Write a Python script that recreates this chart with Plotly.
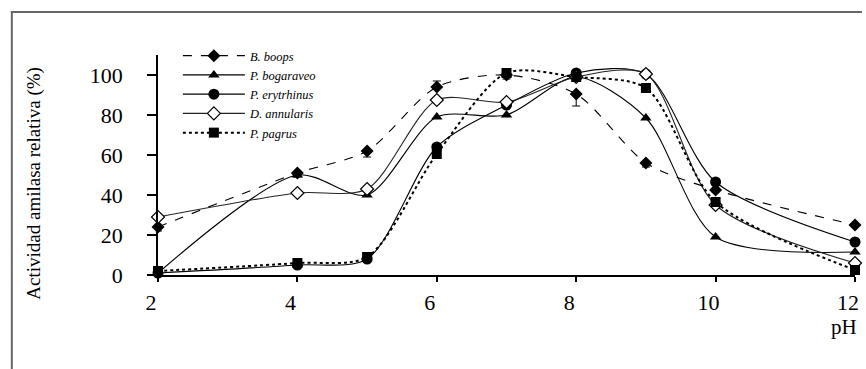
import plotly.graph_objects as go

ph = [2, 4, 5, 6, 7, 8, 9, 10, 12]

b_boops = [24, 51, 62, 94, 100, 90.5, 56, 42.5, 25]
b_boops_err_minus = [2, 2, 3, 0, 2, 6, 2, 1, 1]
b_boops_err_plus = [0, 0, 0, 3, 0, 0, 0, 0, 0]
p_bogaraveo = [1, 50, 40, 79, 80, 99, 78.5, 19, 11.5]
p_erytrhinus = [1, 5, 8, 64, 85, 101, 100.5, 46.5, 16.5]
d_annularis = [29, 41, 43, 87.5, 86.5, 99, 100.5, 35, 6]
p_pagrus = [2, 6, 9, 60.5, 101, 99, 93.5, 36.5, 2.5]

x_ticks = [2, 4, 6, 8, 10, 12]
y_ticks = [0, 20, 40, 60, 80, 100]

FONT = "Liberation Serif"

fig = go.Figure()

fig.add_trace(go.Scatter(
    x=ph, y=b_boops, name="B. boops", mode="lines+markers",
    line=dict(color="black", width=1.1, dash="dash", shape="spline", smoothing=0.8),
    marker=dict(symbol="diamond", size=10, color="black"),
    error_y=dict(type="data", symmetric=False, array=b_boops_err_plus,
                 arrayminus=b_boops_err_minus, color="black", thickness=1, width=4),
    cliponaxis=False,
))
fig.add_trace(go.Scatter(
    x=ph, y=p_bogaraveo, name="P. bogaraveo", mode="lines+markers",
    line=dict(color="black", width=1.1, shape="spline", smoothing=0.8),
    marker=dict(symbol="triangle-up", size=10, color="black"),
    cliponaxis=False,
))
fig.add_trace(go.Scatter(
    x=ph, y=p_erytrhinus, name="P. erytrhinus", mode="lines+markers",
    line=dict(color="black", width=1.1, shape="spline", smoothing=0.8),
    marker=dict(symbol="circle", size=11, color="black"),
    cliponaxis=False,
))
fig.add_trace(go.Scatter(
    x=ph, y=d_annularis, name="D. annularis", mode="lines+markers",
    line=dict(color="#222222", width=1.1, shape="spline", smoothing=0.8),
    marker=dict(symbol="diamond", size=10, color="white", line=dict(color="black", width=1.2)),
    cliponaxis=False,
))
fig.add_trace(go.Scatter(
    x=ph, y=p_pagrus, name="P. pagrus", mode="lines+markers",
    line=dict(color="black", width=2, dash="dot", shape="spline", smoothing=0.8),
    marker=dict(symbol="square", size=10, color="black"),
    cliponaxis=False,
))

# frame lines (top and left) drawn in paper coordinates
L, R, T, B = 158, 7, 55, 94
W, H = 866 - L - R, 369 - T - B
def px_x(p):
    return (p - L) / W
def px_y(p):
    return (369 - B - p) / H

fig.add_shape(type="line", xref="paper", yref="paper",
              x0=px_x(10), x1=px_x(866), y0=px_y(12), y1=px_y(12),
              line=dict(color="#666666", width=2))
fig.add_shape(type="line", xref="paper", yref="paper",
              x0=px_x(11), x1=px_x(11), y0=px_y(12), y1=px_y(369),
              line=dict(color="#666666", width=2))

fig.add_annotation(text="pH", xref="paper", yref="paper",
                   x=px_x(848), y=px_y(327), showarrow=False,
                   font=dict(family=FONT, size=21, color="black"),
                   xanchor="center", yanchor="middle")

fig.add_annotation(text="Actividad amilasa relativa (%)", xref="paper", yref="paper",
                   x=px_x(33), y=px_y(183), showarrow=False, textangle=-90,
                   font=dict(family=FONT, size=19, color="black"),
                   xanchor="center", yanchor="middle")

fig.update_layout(
    width=866, height=369,
    margin=dict(l=L, r=R, t=T, b=B),
    paper_bgcolor="white", plot_bgcolor="white",
    font=dict(family=FONT, color="black"),
    showlegend=True,
    legend=dict(
        x=px_x(178), y=px_y(41), xanchor="left", yanchor="top",
        bgcolor="rgba(0,0,0,0)", font=dict(family=FONT, size=12.5, style="italic"),
        itemwidth=62, tracegroupgap=0,
    ),
    xaxis=dict(
        range=[2, 12], tickvals=x_ticks, ticktext=[str(v) for v in x_ticks],
        showline=True, linecolor="black", linewidth=1.5,
        ticks="outside", ticklen=5, tickcolor="black", tickwidth=1.5,
        showgrid=False, zeroline=False,
        tickfont=dict(family=FONT, size=22, color="black"),
        ticklabelshift=-7, ticklabelstandoff=2,
    ),
    yaxis=dict(
        range=[0, 110], tickvals=y_ticks, ticktext=[str(v) for v in y_ticks],
        showline=True, linecolor="black", linewidth=1.5,
        ticks="outside", ticklen=9, tickcolor="black", tickwidth=1.5,
        showgrid=False, zeroline=False,
        tickfont=dict(family=FONT, size=22, color="black"),
        ticklabelstandoff=20,
    ),
)

fig.write_html("out.html")
